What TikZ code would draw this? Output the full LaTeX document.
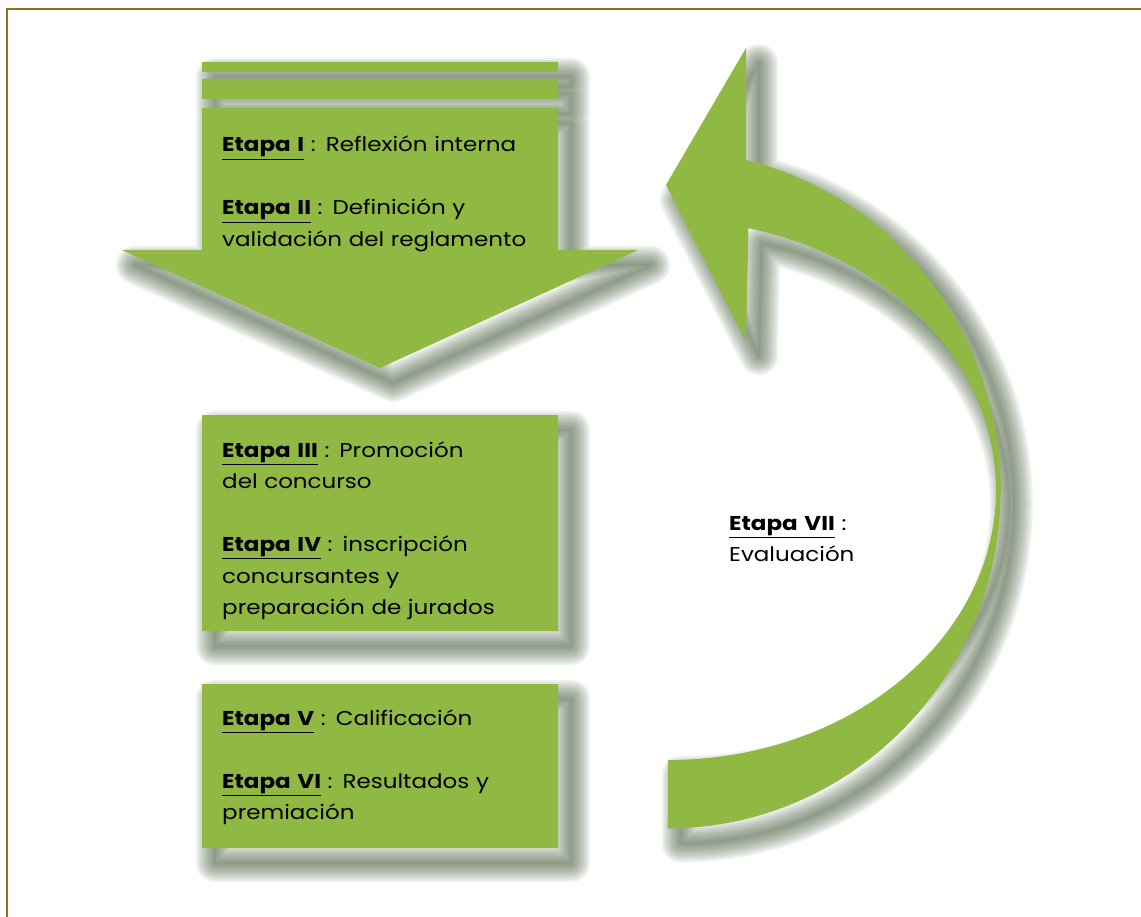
\documentclass[tikz,border=0pt]{standalone}
\usepackage{fontspec}
\setmainfont{Poppins}[FakeStretch=1.15]
\usepackage{xcolor}

\definecolor{etapagreen}{RGB}{143,185,66}
\definecolor{shadowgreen}{RGB}{60,85,50}
\definecolor{framebrown}{RGB}{145,108,38}

\newcommand{\etapa}[1]{\underline{\textbf{#1}}}
% all green shapes in one path
\newcommand{\etapashapes}{%
  (202,62) rectangle (558,72)
  (202,79) rectangle (558,99)
  (202,108) -- (558,108) -- (558,250) -- (638,250)
    -- (380,368) -- (122,250) -- (202,250) -- cycle
  (202,415) rectangle (558,631)
  (202,684) rectangle (558,848)
  (746,160)
    arc[start angle=-76.4, end angle=90, x radius=333, y radius=339]
    -- (668,760)
    arc[start angle=90, end angle=-75.8, x radius=328, y radius=270]
    -- (746,341) -- (666,185) -- (746,48) -- cycle}

\begin{document}
\begin{tikzpicture}[x=1pt, y=-1pt,
    shadowlayer/.style={draw=shadowgreen, line join=round,
      draw opacity=0.08},
    etapatext/.style={anchor=base west, inner sep=0pt, align=left,
      text width=360pt, font=\fontsize{20}{31.5}\selectfont}]
    \useasboundingbox (0,0) rectangle (1141,917);
    \fill[white] (0,0) rectangle (1141,917);

    % Draw frame
    \draw[framebrown, line width=2pt] (7,917) -- (7,9) -- (1141,9);

    % Draw soft shadow
    \begin{scope}[shift={(13,15)}]
      \foreach \w in {38,34,...,2}
        \draw[shadowlayer, line width=\w pt] \etapashapes;
    \end{scope}

    % Draw bars, down arrow, stage boxes and curved arrow
    \fill[etapagreen] \etapashapes;

    % Label stages
    \node[etapatext] (etapaI) at (222,152)
        {\etapa{Etapa I} : Reflexión interna\\[31.5pt]
         \etapa{Etapa II} : Definición y\\
         validación del reglamento};
    \node[etapatext] (etapaIII) at (222,457)
        {\etapa{Etapa III} : Promoción\\
         del concurso\\[31.5pt]
         \etapa{Etapa IV} : inscripción\\
         concursantes y\\
         preparación de jurados};
    \node[etapatext] (etapaV) at (222,725)
        {\etapa{Etapa V} : Calificación\\[31.5pt]
         \etapa{Etapa VI} : Resultados y\\
         premiación};
    \node[etapatext] (etapaVII) at (729,530)
        {\etapa{Etapa VII} :\\
         Evaluación};
\end{tikzpicture}
\end{document}
